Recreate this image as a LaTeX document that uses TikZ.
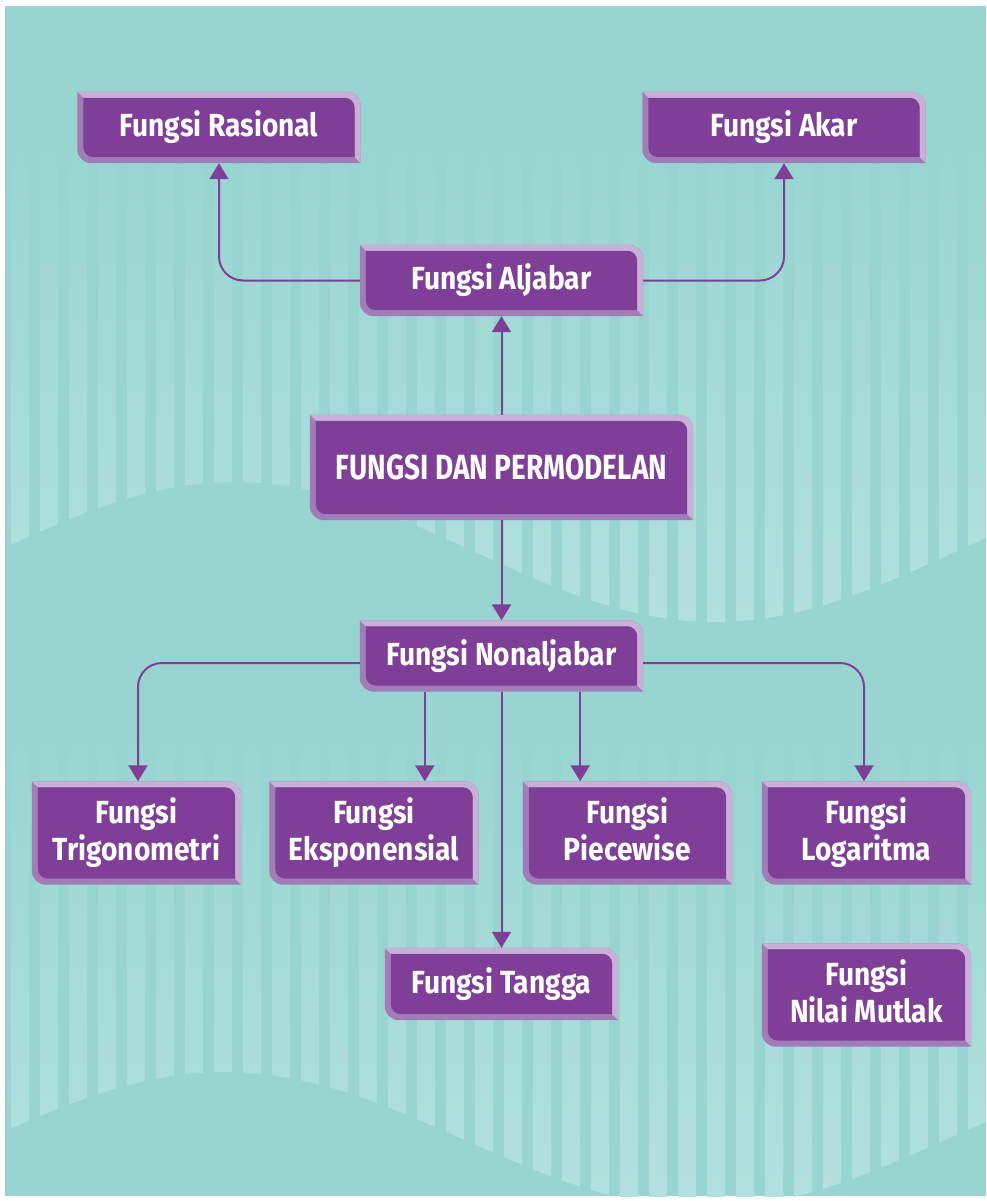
\documentclass[tikz,border=0pt]{standalone}
\usepackage{fontspec}
\newfontfamily\boxfont{Fira Sans}[FakeStretch=0.88]
\newfontfamily\titlefont{Fira Sans}[FakeStretch=0.8]
\usetikzlibrary{arrows.meta,calc}

\definecolor{bgteal}{HTML}{98D5D1}
\definecolor{stripe}{HTML}{B2E1DE}
\definecolor{boxface}{HTML}{7F3F98}
\definecolor{bevlight}{HTML}{C8B0D6}
\definecolor{bevdark}{HTML}{A27CB9}
\definecolor{linkpurple}{HTML}{7F3F98}

\pgfdeclarelayer{backdrop}
\pgfdeclarelayer{boxes}
\pgfsetlayers{backdrop,boxes,main}

\newcommand\bevel[1]{%
  \fill[bevdark] let \p1=(#1.north west), \p2=(#1.south east) in
    (\x1,\y1) -- (\x2-14pt,\y1) arc[start angle=90, end angle=0, radius=14pt]
    -- (\x2,\y2) -- (\x1+14pt,\y2) arc[start angle=270, end angle=180, radius=14pt] -- cycle;
  \fill[bevlight] let \p1=(#1.north west), \p2=(#1.south east) in
    (\x1,\y1) -- (\x2-14pt,\y1) arc[start angle=90, end angle=0, radius=14pt]
    -- (\x2,\y2) -- (\x2-6pt,\y2+6pt) -- (\x2-6pt,\y1-16pt)
    arc[start angle=0, end angle=90, radius=10pt] -- (\x1+6pt,\y1-6pt) -- cycle;
  \fill[boxface] let \p1=(#1.north west), \p2=(#1.south east) in
    (\x1+6pt,\y1-6pt) -- (\x2-16pt,\y1-6pt) arc[start angle=90, end angle=0, radius=10pt]
    -- (\x2-6pt,\y2+6pt) -- (\x1+16pt,\y2+6pt) arc[start angle=270, end angle=180, radius=10pt] -- cycle;
}

\begin{document}
\begin{tikzpicture}[x=1pt, y=1pt,
    box/.style={text=white, inner sep=0pt, align=center,
                font=\boxfont\bfseries\fontsize{32}{37}\selectfont},
    wide box/.style={box, minimum width=283pt, minimum height=71pt},
    small box/.style={box, minimum width=209pt, minimum height=103pt},
    link/.style={draw=linkpurple, line width=2pt, -{Triangle[width=19pt,length=16pt]}}]

  \useasboundingbox (0,0) rectangle (986,-1201);

  \node[wide box] (rasional)   at (219,-127.5)   {Fungsi Rasional};
  \node[wide box] (akar)       at (784,-127.5)   {Fungsi Akar};
  \node[wide box] (aljabar)    at (501.5,-280.5) {Fungsi Aljabar};
  \node[box, minimum width=383pt, minimum height=105pt,
        font=\titlefont\bfseries\fontsize{35}{40}\selectfont]
                  (main)       at (501.5,-467.5) {FUNGSI DAN PERMODELAN};
  \node[wide box] (nonaljabar) at (501.5,-656)   {Fungsi Nonaljabar};
  \node[small box] (trig)      at (136.5,-833)   {Fungsi\\Trigonometri};
  \node[small box] (eksp)      at (374,-833)     {Fungsi\\Eksponensial};
  \node[small box] (piecewise) at (627.5,-833)   {Fungsi\\Piecewise\vphantom{g}};
  \node[small box] (logaritma) at (866.5,-833)   {Fungsi\\Logaritma};
  \node[box, minimum width=233pt, minimum height=72pt]
                  (tangga)     at (501.5,-984)   {Fungsi Tangga};
  \node[small box] (mutlak)    at (866.5,-995)   {Fungsi\\Nilai Mutlak\vphantom{g}};

  \begin{pgfonlayer}{boxes}
    \foreach \bx in {rasional,akar,aljabar,main,nonaljabar,trig,eksp,piecewise,logaritma,tangga,mutlak}
      {\bevel{\bx}}
  \end{pgfonlayer}

  \begin{pgfonlayer}{backdrop}
    \fill[white] (0,0) rectangle (986,-1201);
    \fill[bgteal] (5,-6) rectangle (986,-1196);
    \begin{scope}
      \clip (5,-140) -- plot[domain=5:986, samples=80] (\x,{-552+70*cos((\x-235)*0.375)}) -- (986,-140) -- cycle;
      \foreach \k in {0,...,33}
        \shade[top color=bgteal, bottom color=stripe] ({11+29*\k},-140) rectangle ({29+29*\k},-630);
    \end{scope}
    \begin{scope}
      \clip (5,-730) -- plot[domain=5:986, samples=80] (\x,{-1140+68*cos((\x-225)*0.375)}) -- (986,-730) -- cycle;
      \clip (5,-6) rectangle (986,-1196);
      \foreach \k in {0,...,33}
        \shade[top color=bgteal, bottom color=stripe] ({11+29*\k},-730) rectangle ({29+29*\k},-1200);
    \end{scope}
  \end{pgfonlayer}

  \coordinate (ek) at ([xshift=65pt]nonaljabar.south west);
  \coordinate (pw) at ([xshift=-63pt]nonaljabar.south east);

  \draw[link, rounded corners=24pt] (aljabar.west) -| (rasional.south);
  \draw[link, rounded corners=24pt] (aljabar.east) -| (akar.south);
  \draw[link] (main.north) -- (aljabar.south);
  \draw[link] (main.south) -- (nonaljabar.north);
  \draw[link, rounded corners=24pt] ([yshift=-7pt]nonaljabar.west) -| ([xshift=1.5pt]trig.north);
  \draw[link] (ek) -- (ek |- eksp.north);
  \draw[link] (nonaljabar.south) -- (tangga.north);
  \draw[link] (pw) -- (pw |- piecewise.north);
  \draw[link, rounded corners=24pt] ([yshift=-7pt]nonaljabar.east) -| ([xshift=-2.5pt]logaritma.north);
\end{tikzpicture}
\end{document}
